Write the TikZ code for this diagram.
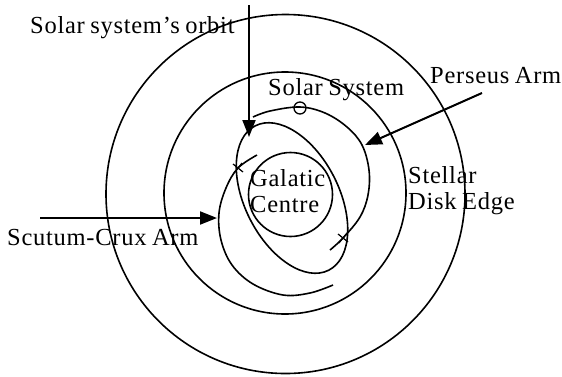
\documentclass[tikz,border=0pt]{standalone}
\usepackage{fontspec}
\setmainfont{Liberation Serif}
\newfontfamily\lblfont[LetterSpace=3,WordSpace=0.8]{Liberation Serif}
\usetikzlibrary{arrows.meta}
\begin{document}
\begin{tikzpicture}[x=1pt,y=-1pt,
  curve/.style={line width=1.6pt},
  arr/.style={line width=2pt,-{Triangle[length=17pt,width=13pt]}},
  lbl/.style={anchor=base west,inner sep=0pt,font=\lblfont\fontsize{24.5}{26}\selectfont},
  xmark/.style={line width=1.2pt}]
\useasboundingbox[fill=white] (0,0) rectangle (562,376);
% rings
\draw[curve] (285.5,194) circle [radius=179.5pt];
\draw[curve] (285,193) circle [radius=121pt];
\draw[curve] (290.5,194.5) circle [radius=42pt];
% solar system's orbit (tilted ellipse)
\draw[curve,shift={(292,198)},rotate=-63] (0,0) ellipse [x radius=81pt, y radius=47pt];
% Perseus arm
\draw[curve] plot[smooth,tension=0.6] coordinates {(253,117) (270,111) (300,107) (325,113) (347,127) (362,145) (369,170) (368,195) (360,217) (343,238) (330,250)};
% Scutum-Crux arm
\draw[curve] plot[smooth,tension=0.6] coordinates {(257,155) (238,168) (226,188) (219,213) (221,240) (232,265) (253,284) (283,295) (310,293) (333,285)};
% solar system marker
\draw[line width=1.3pt] (300,108) circle [radius=6pt];
% crossing marks
\coordinate (xa) at (238,168);
\coordinate (xb) at (343,238);
\foreach \p in {xa,xb}{
  \draw[xmark] ([shift={(-5,-4)}]\p) -- ([shift={(5,4)}]\p);
  \draw[xmark] ([shift={(-4,5)}]\p) -- ([shift={(4,-5)}]\p);
}
% labels
\node[lbl] (orbitLbl) at (30,33) {Solar system’s orbit};
\node[lbl] (solarLbl) at (268,95) {Solar System};
\node[lbl] (perseusLbl) at (430,83) {Perseus Arm};
\node[lbl] (stellarA) at (408,183) {Stellar};
\node[lbl] (stellarB) at (408,209) {Disk Edge};
\node[lbl] (galA) at (250,186) {Galatic};
\node[lbl] (galB) at (250,212) {Centre};
\node[lbl] (scutumLbl) at (7,245) {Scutum-Crux Arm};
% arrows
\coordinate (orbitTail) at (249,5);
\coordinate (orbitTip) at (249,137);
\coordinate (perseusTail) at (482,93);
\coordinate (perseusTip) at (365,145);
\coordinate (scutumTail) at (40,218);
\coordinate (scutumTip) at (217,218);
\draw[arr] (orbitTail) -- (orbitTip);
\draw[arr] (perseusTail) -- (perseusTip);
\draw[arr] (scutumTail) -- (scutumTip);
\end{tikzpicture}
\end{document}
